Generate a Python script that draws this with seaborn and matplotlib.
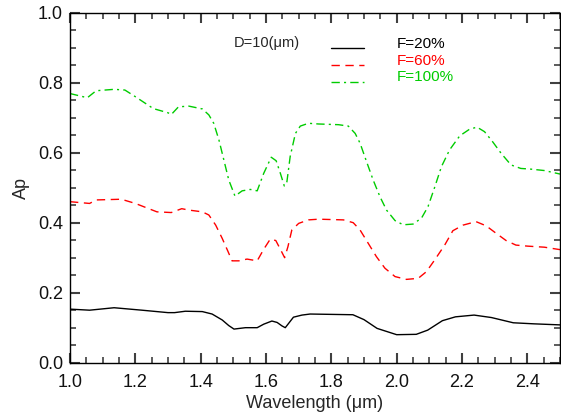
import numpy as np
import pandas as pd
import matplotlib
matplotlib.use("Agg")
import matplotlib.pyplot as plt
import seaborn as sns
from matplotlib.ticker import MultipleLocator

# valores (comprimento de onda em um, Ap)
wl_20 = [1.0, 1.06, 1.135, 1.22, 1.30, 1.32, 1.353, 1.405, 1.435, 1.466, 1.486, 1.502,
         1.537, 1.573, 1.593, 1.618, 1.634, 1.649, 1.659, 1.669, 1.684, 1.71, 1.735,
         1.866, 1.90, 1.94, 2.0, 2.06, 2.095, 2.14, 2.18, 2.237, 2.29, 2.357, 2.42, 2.5]
ap_20 = [0.153, 0.150, 0.157, 0.150, 0.143, 0.143, 0.147, 0.146, 0.139, 0.122, 0.106, 0.096,
         0.100, 0.100, 0.110, 0.119, 0.115, 0.105, 0.100, 0.112, 0.130, 0.136, 0.139,
         0.137, 0.123, 0.098, 0.080, 0.081, 0.093, 0.120, 0.131, 0.136, 0.129, 0.114, 0.111, 0.108]

wl_60 = [1.0, 1.06, 1.08, 1.157, 1.20, 1.266, 1.31, 1.342, 1.364, 1.405, 1.425, 1.446,
         1.466, 1.484, 1.496, 1.517, 1.542, 1.573, 1.593, 1.613, 1.63, 1.644, 1.657,
         1.667, 1.679, 1.70, 1.73, 1.761, 1.837, 1.867, 1.888, 1.913, 1.938, 1.964,
         1.995, 2.03, 2.066, 2.091, 2.116, 2.147, 2.172, 2.203, 2.243, 2.274, 2.304,
         2.335, 2.365, 2.401, 2.452, 2.5]
ap_60 = [0.460, 0.455, 0.465, 0.467, 0.455, 0.431, 0.429, 0.440, 0.436, 0.431, 0.422, 0.393,
         0.355, 0.317, 0.291, 0.291, 0.296, 0.291, 0.324, 0.353, 0.349, 0.324, 0.300,
         0.331, 0.379, 0.398, 0.408, 0.410, 0.408, 0.400, 0.379, 0.341, 0.303, 0.270,
         0.246, 0.238, 0.241, 0.260, 0.293, 0.336, 0.377, 0.393, 0.403, 0.391, 0.370,
         0.349, 0.336, 0.333, 0.330, 0.323]

wl_100 = [1.0, 1.053, 1.08, 1.135, 1.168, 1.20, 1.255, 1.30, 1.31, 1.332, 1.364, 1.405,
          1.425, 1.44, 1.456, 1.471, 1.486, 1.505, 1.527, 1.552, 1.573, 1.593, 1.616,
          1.631, 1.644, 1.656, 1.664, 1.674, 1.69, 1.705, 1.73, 1.761, 1.822, 1.852,
          1.873, 1.888, 1.908, 1.928, 1.949, 1.969, 1.995, 2.02, 2.05, 2.076, 2.096,
          2.117, 2.137, 2.162, 2.193, 2.223, 2.246, 2.269, 2.294, 2.32, 2.35, 2.38,
          2.411, 2.452, 2.5]
ap_100 = [0.769, 0.757, 0.777, 0.781, 0.779, 0.760, 0.726, 0.714, 0.709, 0.731, 0.733, 0.725,
          0.708, 0.684, 0.636, 0.579, 0.522, 0.476, 0.491, 0.495, 0.491, 0.541, 0.587,
          0.577, 0.541, 0.505, 0.517, 0.589, 0.655, 0.676, 0.684, 0.682, 0.680, 0.676,
          0.655, 0.627, 0.574, 0.522, 0.474, 0.436, 0.406, 0.394, 0.396, 0.413, 0.446,
          0.503, 0.560, 0.608, 0.648, 0.667, 0.673, 0.660, 0.631, 0.598, 0.565, 0.555,
          0.553, 0.549, 0.539]

labels = ["F=20%", "F=60%", "F=100%"]
cores = ["black", "#ff0000", "#00cc00"]
estilos = ["-", (0, (6, 4)), (0, (6, 3, 1.5, 3))]

sns.set_style("ticks")
plt.rcParams['font.family'] = ['Liberation Sans', 'DejaVu Sans']

fig = plt.figure(figsize=(5.61, 4.12), dpi=100)
ax = fig.add_axes([0.1248, 0.1197, 0.8734, 0.8495])

series = [(wl_20, ap_20), (wl_60, ap_60), (wl_100, ap_100)]
for (wl, ap), lab, cor, ls in zip(series, labels, cores, estilos):
    df = pd.DataFrame({"wl": wl, "ap": ap})
    sns.lineplot(data=df, x="wl", y="ap", ax=ax, color=cor, linestyle=ls,
                 linewidth=1.0, estimator=None, sort=False)

# legenda manual estilo IDL
ax.text(1.5, 0.913, "D=10(μm)", fontsize=10.5, va="center", ha="left")
leg_y = [0.898, 0.851, 0.803]
for lab, cor, ls, yy in zip(labels, cores, estilos, leg_y):
    ax.plot([1.80, 1.90], [yy, yy], color=cor, linestyle=ls, linewidth=1.0)
    ax.text(2.0, yy + 0.012, lab, color=cor, fontsize=11, va="center", ha="left")

ax.set_xlim(1.0, 2.5)
ax.set_ylim(0.0, 1.0)
ax.xaxis.set_major_locator(MultipleLocator(0.2))
ax.xaxis.set_minor_locator(MultipleLocator(0.05))
ax.yaxis.set_major_locator(MultipleLocator(0.2))
ax.yaxis.set_minor_locator(MultipleLocator(0.05))
ax.tick_params(which="both", direction="in", top=True, right=True, color="#404040",
               labelsize=13, labelcolor="#111111")
ax.tick_params(which="major", length=7, width=1.5)
ax.tick_params(which="minor", length=4, width=1.2)
ax.tick_params(axis="x", which="both", pad=8.5)
ax.tick_params(axis="y", which="both", pad=5)
for s in ax.spines.values():
    s.set_visible(True)
    s.set_color("black")
    s.set_linewidth(1.0)

ax.set_xlabel("Wavelength (μm)", fontsize=13, labelpad=2.5)
ax.set_ylabel("Ap", fontsize=13, labelpad=6)

plt.savefig("out.png", dpi=100)
